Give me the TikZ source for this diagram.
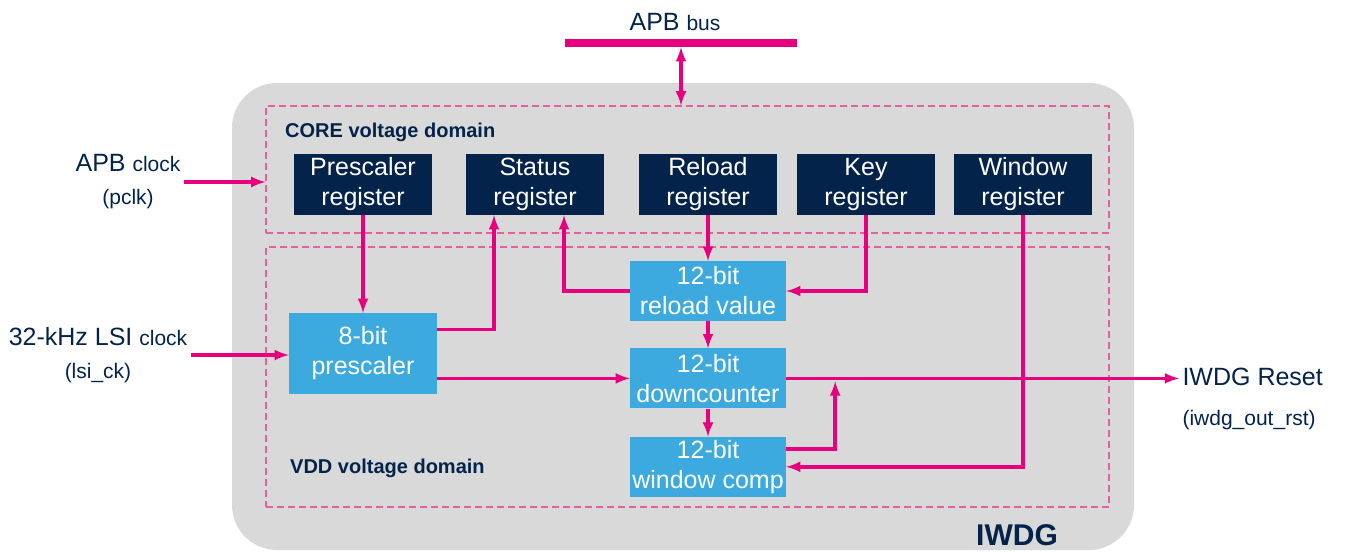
\documentclass[tikz,border=0pt]{standalone}
\usepackage{fontspec}
\setmainfont{Liberation Sans}
\usepackage{tikz}
\usetikzlibrary{positioning}
\definecolor{stpink}{HTML}{E6007E}
\definecolor{stnavy}{HTML}{03234B}
\definecolor{stblue}{HTML}{3CAADF}
\definecolor{stgray}{HTML}{D9D9D9}
\definecolor{dashpink}{HTML}{E5609F}
\newcommand{\smtext}[1]{{\fontsize{21}{25}\selectfont #1}}

\begin{document}
\begin{tikzpicture}
    [
    x=1pt, y=-1pt,
    reg/.style={rectangle,fill=stnavy,text=white,minimum width=138pt,minimum height=61pt,align=center,inner sep=0pt,font=\fontsize{25}{30}\selectfont},
    blk/.style={rectangle,fill=stblue,text=white,minimum width=156pt,minimum height=60pt,align=center,inner sep=0pt,font=\fontsize{25}{30}\selectfont},
    vbox/.style={rectangle,draw=dashpink,line width=1.2pt,dash pattern=on 7pt off 4pt,minimum width=843pt,inner sep=0pt},
    lbl/.style={text=stnavy,align=center,font=\fontsize{25}{33}\selectfont},
    dom/.style={text=stnavy,anchor=west,inner sep=0pt,font=\bfseries\fontsize{20}{24}\selectfont},
    wire/.style={draw=stpink,line width=3.8pt},
    ]
    \useasboundingbox (0,0) rectangle (1346,552);
    \node (iwdg) at (683,316.5) [rectangle,fill=stgray,rounded corners=45pt,minimum width=902pt,minimum height=467pt] {};
    \node (core) at (687.5,169.5) [vbox,minimum height=127pt] {};
    \node (vdd) at (687.5,377) [vbox,minimum height=260pt] {};
    \node (coret) at (285,132) [dom] {CORE voltage domain};
    \node (vddt) at (290,468) [dom] {VDD voltage domain};
    \node (iwdgt) at (1017,535) [dom,anchor=center,font=\bfseries\fontsize{30}{36}\selectfont] {IWDG};

    \node (apb) at (675,22) [lbl] {APB \smtext{bus}};
    \node (bus) at (681,43) [fill=stpink,minimum width=232pt,minimum height=8pt,inner sep=0pt] {};
    \node (pclk) at (128,182) [lbl] {APB \smtext{clock}\\\smtext{(pclk)}};
    \node (lsi) at (98,355) [lbl] {32-kHz LSI \smtext{clock}\\\smtext{(lsi\_ck)}};
    \node (rst) at (1179,377) [lbl,anchor=west] {IWDG Reset};
    \node (rsts) [lbl,below=17pt of rst.south west,anchor=north west] {\smtext{(iwdg\_out\_rst)}};

    \node (pr) at (363,184.5) [reg] {Prescaler\\register};
    \node (sr) at (535,184.5) [reg] {Status\\register};
    \node (rr) at (708,184.5) [reg] {Reload\\register};
    \node (kr) at (866,184.5) [reg] {Key\\register};
    \node (wr) at (1023,184.5) [reg] {Window\\register};

    \node (ps) at (363,353.5) [blk,minimum width=148pt,minimum height=81pt] {8-bit\\prescaler};
    \node (rv) at (708,291) [blk] {12-bit\\reload value};
    \node (dc) [blk,below=27pt of rv] {12-bit\\downcounter};
    \node (wc) [blk,below=28pt of dc] {12-bit\\window comp};

    \draw [wire,latex-latex] (bus.south) -- (bus.south |- core.north);
    \draw [wire,-latex] (pclk) -- (pclk -| core.west);
    \draw [wire,-latex] (lsi) -- (lsi -| ps.west);
    \draw [wire,-latex] (pr) -- (ps);
    \draw [wire,-latex] ([yshift=24pt]ps.east) -| ([xshift=-41pt]sr.south);
    \draw [wire,-latex] (rv.west) -| ([xshift=29pt]sr.south);
    \draw [wire,-latex] (rr) -- (rv);
    \draw [wire,-latex] (kr.south) |- (rv.east);
    \draw [wire,-latex] (rv) -- (dc);
    \draw [wire,-latex] (dc.west -| ps.east) -- (dc.west);
    \draw [wire,-latex] (dc) -- (wc);
    \draw [wire,-latex] (dc.east) -- (dc.east -| rst.west);
    \draw [wire,-latex] ([yshift=18pt]wc.east) -| ([xshift=49pt,yshift=-3pt]dc.east);
    \draw [wire,-latex] (wr.south) |- (wc.east);
  \end{tikzpicture}
\end{document}
